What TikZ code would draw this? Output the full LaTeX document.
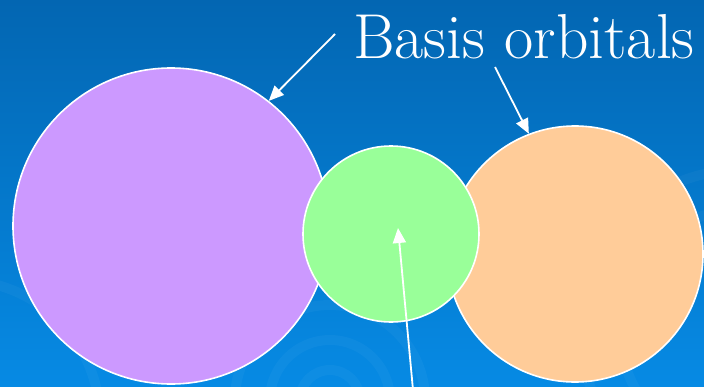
\documentclass[tikz,border=0pt]{standalone}
\usetikzlibrary{positioning,calc,arrows.meta}
\definecolor{bgtop}{RGB}{3,102,178}
\definecolor{bgbottom}{RGB}{6,138,228}
\definecolor{orbpurple}{RGB}{204,153,255}
\definecolor{orbgreen}{RGB}{153,255,153}
\definecolor{orborange}{RGB}{255,204,153}
\tikzset{%
  every orbital/.style={circle,draw=white,line width=1.6pt,inner sep=0pt},
  swirl/.style={draw=white,opacity=0.035,line width=10pt},
}

\begin{document}
\begin{tikzpicture}[
            x=1pt,y=-1pt,
            pointer/.style={
              draw=white,
              line width=1.8pt,
              -{Triangle[length=15pt,width=13pt]}
              },
            label/.style={
              text=white,
              font=\rmfamily\fontsize{63.5}{64}\selectfont,
              inner sep=0pt,
              anchor=base west
              },
            >=latex
            ]
            % background
            \fill[top color=bgtop,bottom color=bgbottom] (0,0) rectangle (704,386);
            \begin{scope}
              \clip (0,0) rectangle (704,386);
              \foreach \rr in {30,60,95}
                \draw[swirl] (330,400) circle[radius=\rr];
              \foreach \rr in {120,160}
                \draw[swirl] (740,330) circle[radius=\rr];
              \draw[swirl] (-40,420) circle[radius=140];
            \end{scope}

            % orbitals
            \node[every orbital,fill=orbpurple,minimum size=316pt] (lobeA) at (171,226) {};
            \node[every orbital,fill=orborange,minimum size=256pt] (lobeC) at (575,254) {};
            \node[every orbital,fill=orbgreen,minimum size=176pt] (lobeB) at (391,234) {};

            \node[label] (basis) at (353,58) {Basis orbitals};

            \coordinate (fromA) at (335,34);
            \coordinate (fromC) at (495,67);
            \coordinate (fromB) at (413,390);
            \coordinate (core) at (398,228);

            \draw[pointer] (fromA) -- (lobeA.52);
            \draw[pointer] (fromC) -- (lobeC.111);
            \draw[pointer] (fromB) -- (core);

            \useasboundingbox (0,0) rectangle (704,386);
        \end{tikzpicture}
\end{document}
